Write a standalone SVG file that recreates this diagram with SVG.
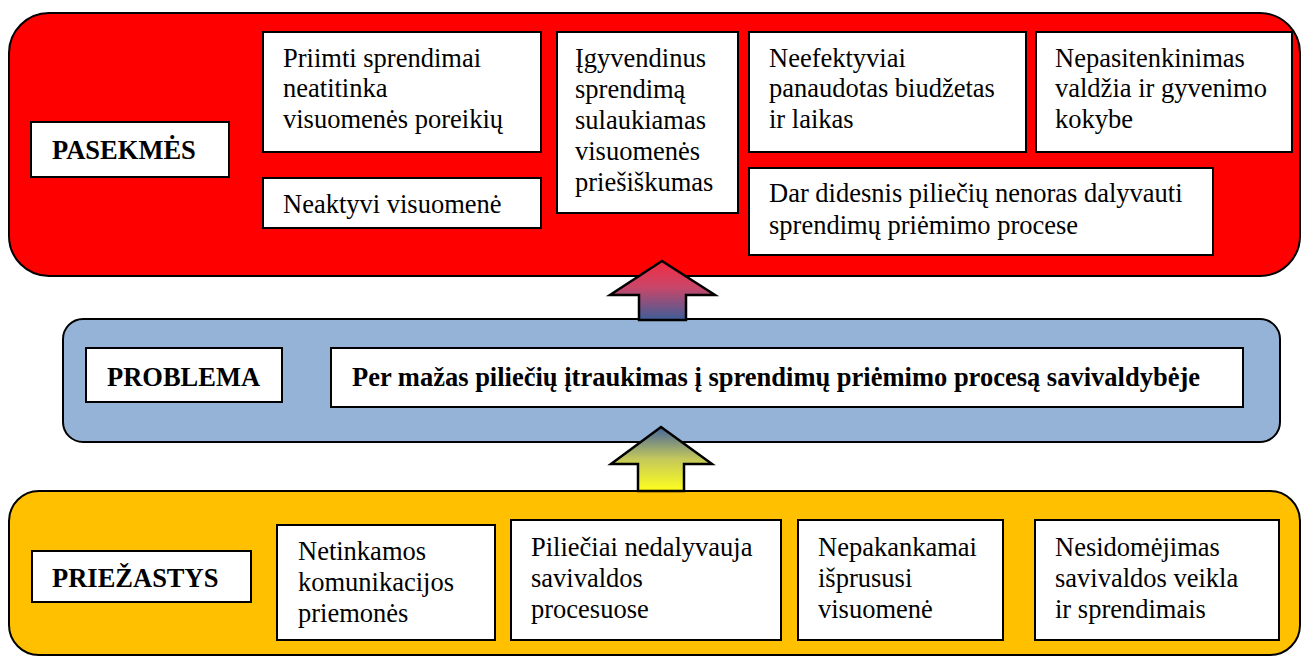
<svg xmlns="http://www.w3.org/2000/svg" width="1302" height="657" viewBox="0 0 1302 657">
<style>
.box{fill:#fff;stroke:#000;stroke-width:2}
.cont{stroke:#000;stroke-width:2}
text{font-family:'Liberation Serif','Tinos','Times New Roman','DejaVu Serif',serif;font-size:26.5px;fill:#000}
.b{font-weight:bold}
.arr{stroke:#000;stroke-width:2.5;stroke-linejoin:miter}
</style>
<defs>
<linearGradient id="gTop" x1="0" y1="0" x2="0" y2="1">
<stop offset="0" stop-color="#F42A42"/>
<stop offset="0.45" stop-color="#C8476A"/>
<stop offset="1" stop-color="#3D5E98"/>
</linearGradient>
<linearGradient id="gBot" x1="0" y1="0" x2="0" y2="1">
<stop offset="0" stop-color="#44649C"/>
<stop offset="0.5" stop-color="#C4C85A"/>
<stop offset="1" stop-color="#FFFF1E"/>
</linearGradient>
</defs>
<g id="pasekmes-group">
<rect class="cont" x="9" y="13" width="1291" height="263" rx="40" ry="40" fill="#FF0000"/>
</g>
<g id="problema-group">
<rect class="cont" x="63" y="319" width="1217" height="123" rx="20" ry="20" fill="#95B3D7"/>
</g>
<g id="priezastys-group">
<rect class="cont" x="9" y="491" width="1291" height="164" rx="30" ry="30" fill="#FFC000"/>
</g>
<g id="connectors">
<polygon class="arr" fill="url(#gTop)" points="662,261 715,295 686,295 686,320 639,320 639,295 610,295"/>
<polygon class="arr" fill="url(#gBot)" points="661,427 712,464 684,464 684,491 638,491 638,464 611,464"/>
</g>
<g id="n-pasekmes">
<rect class="box" x="31" y="122" width="198" height="55"/>
<text class="b" x="52" y="159">PASEKMĖS</text>
</g>
<g id="n-priimti">
<rect class="box" x="263" y="32" width="278" height="120"/>
<text x="283" y="67">Priimti sprendimai</text>
<text x="283" y="97">neatitinka</text>
<text x="283" y="128">visuomenės poreikių</text>
</g>
<g id="n-neaktyvi">
<rect class="box" x="263" y="178" width="278" height="50"/>
<text x="283" y="213">Neaktyvi visuomenė</text>
</g>
<g id="n-igyvendinus">
<rect class="box" x="557" y="32" width="181" height="181"/>
<text x="575" y="67">Įgyvendinus</text>
<text x="575" y="98">sprendimą</text>
<text x="575" y="129">sulaukiamas</text>
<text x="575" y="160">visuomenės</text>
<text x="575" y="191">priešiškumas</text>
</g>
<g id="n-neefektyviai">
<rect class="box" x="749" y="32" width="277" height="120"/>
<text x="769" y="67">Neefektyviai</text>
<text x="769" y="97">panaudotas biudžetas</text>
<text x="769" y="128">ir laikas</text>
</g>
<g id="n-nepasitenkinimas">
<rect class="box" x="1036" y="32" width="256" height="120"/>
<text x="1055" y="67">Nepasitenkinimas</text>
<text x="1055" y="97">valdžia ir gyvenimo</text>
<text x="1055" y="128">kokybe</text>
</g>
<g id="n-dar">
<rect class="box" x="749" y="168" width="464" height="87"/>
<text x="769" y="202">Dar didesnis piliečių nenoras dalyvauti</text>
<text x="769" y="234">sprendimų priėmimo procese</text>
</g>
<g id="n-problema">
<rect class="box" x="86" y="348" width="196" height="54"/>
<text class="b" x="107" y="386">PROBLEMA</text>
</g>
<g id="n-per-mazas">
<rect class="box" x="331" y="348" width="912" height="59"/>
<text class="b" x="352" y="386">Per mažas piliečių įtraukimas į sprendimų priėmimo procesą savivaldybėje</text>
</g>
<g id="n-priezastys">
<rect class="box" x="32" y="551" width="219" height="51"/>
<text class="b" x="52" y="587">PRIEŽASTYS</text>
</g>
<g id="n-netinkamos">
<rect class="box" x="277" y="525" width="218" height="115"/>
<text x="298" y="560">Netinkamos</text>
<text x="298" y="591">komunikacijos</text>
<text x="298" y="622">priemonės</text>
</g>
<g id="n-pilieciai">
<rect class="box" x="511" y="520" width="270" height="120"/>
<text x="531" y="556">Piliečiai nedalyvauja</text>
<text x="531" y="587">savivaldos</text>
<text x="531" y="618">procesuose</text>
</g>
<g id="n-nepakankamai">
<rect class="box" x="798" y="520" width="205" height="120"/>
<text x="818" y="556">Nepakankamai</text>
<text x="818" y="587">išprususi</text>
<text x="818" y="618">visuomenė</text>
</g>
<g id="n-nesidomejimas">
<rect class="box" x="1035" y="520" width="244" height="120"/>
<text x="1055" y="556">Nesidomėjimas</text>
<text x="1055" y="587">savivaldos veikla</text>
<text x="1055" y="618">ir sprendimais</text>
</g>
</svg>
